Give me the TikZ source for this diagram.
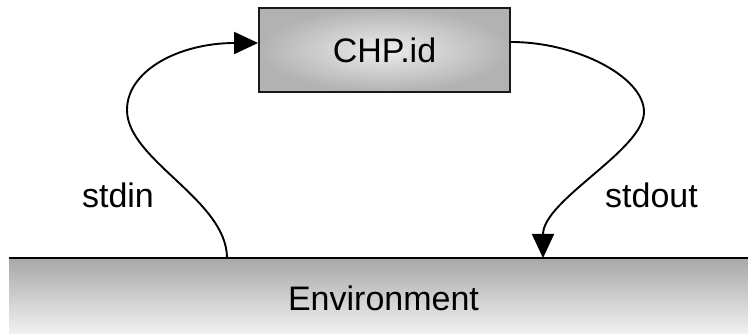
\documentclass[tikz,border=0pt]{standalone}
\usepackage{fontspec}
\setmainfont{Liberation Sans}
\usetikzlibrary{arrows.meta,calc}
\definecolor{boxcore}{HTML}{ECECEC}
\definecolor{boxrim}{HTML}{B2B2B2}
\definecolor{envtop}{HTML}{A8A8A8}
\definecolor{envbottom}{HTML}{F2F2F2}
\begin{document}
\begin{tikzpicture}[x=1pt,y=-1pt,
  every node/.style={font=\fontsize{34}{40}\selectfont},
  procbox/.style={draw=black!90, line width=1.8pt, inner color=boxcore, outer color=boxrim,
                  minimum width=251pt, minimum height=84pt},
  envbar/.style={top color=envtop, bottom color=envbottom, inner sep=0pt,
                 minimum width=739pt, minimum height=76pt},
  flow/.style={line width=1.9pt, -{Triangle[width=22pt,length=24pt]}},
  lbl/.style={anchor=base, inner sep=0pt}]
\useasboundingbox (0,0) rectangle (748,334);

% environment strip along the bottom, ruled only on its upper edge
\node[envbar, anchor=north west] (env) at (9,258) {};
\draw[line width=2.6pt] (env.north west) -- (env.north east);
\node[lbl] (envtext) at (383.5,310) {Environment};

% the process
\node[procbox] (box) at (384.5,50) {CHP.id};

% attachment points of the streams on the environment
\coordinate (inpt) at (227,258);
\coordinate (outpt) at (543,258);

% standard input: from the environment up into the process
\draw[flow] (inpt) .. controls (227,200) and (127,160) .. (127,110)
  .. controls (127,70) and (180,43) .. ($(box.west)+(0,-7)$);

% standard output: from the process back down to the environment
\draw[flow] ($(box.east)+(0,-8)$) .. controls (577,42) and (644,77) .. (644,112)
  .. controls (644,150) and (543,200) .. (outpt);

\node[lbl] (stdin) at (118,208) {stdin};
\node[lbl] (stdout) at (651.5,208) {stdout};
\end{tikzpicture}
\end{document}
